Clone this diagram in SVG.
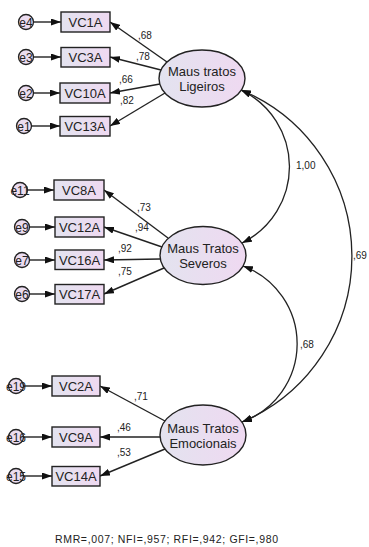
<svg xmlns="http://www.w3.org/2000/svg" width="369" height="547" viewBox="0 0 369 547">
<defs>
<linearGradient id="g" x1="0" y1="0" x2="1" y2="0">
<stop offset="0" stop-color="#e3e3ef"/>
<stop offset="1" stop-color="#efd9f1"/>
</linearGradient>
<marker id="ah" viewBox="0 0 10 7" refX="10" refY="3.5" markerUnits="userSpaceOnUse" markerWidth="10" markerHeight="7" orient="auto-start-reverse">
<path d="M0,0 L10,3.5 L0,7 z" fill="#111"/>
</marker>
<style>
.box{fill:url(#g);stroke:#222;stroke-width:1.4}
.lat{fill:url(#g);stroke:#222;stroke-width:1.4}
.err{fill:#ebdcf0;stroke:#222;stroke-width:1.3}
.bt{font-family:"Liberation Sans",Arial,sans-serif;font-size:13px;fill:#222;text-anchor:middle}
.et{font-family:"Liberation Sans",Arial,sans-serif;font-size:12px;fill:#222;text-anchor:middle}
.lt{font-family:"Liberation Sans",Arial,sans-serif;font-size:13px;fill:#222;text-anchor:middle}
.wt{font-family:"Liberation Sans",Arial,sans-serif;font-size:10px;fill:#222}
.ln{stroke:#222;stroke-width:1.4;fill:none;marker-end:url(#ah)}
.cv{stroke:#222;stroke-width:1.3;fill:none;marker-start:url(#ah);marker-end:url(#ah)}
</style>
</defs>

<g id="connectors">
<!-- error to indicator -->
<line class="ln" x1="34" y1="22" x2="61" y2="22"/>
<line class="ln" x1="34" y1="57" x2="61" y2="57"/>
<line class="ln" x1="34" y1="93" x2="60" y2="93"/>
<line class="ln" x1="32" y1="126" x2="60" y2="126"/>
<line class="ln" x1="28" y1="190" x2="54" y2="190"/>
<line class="ln" x1="30" y1="227" x2="55" y2="227"/>
<line class="ln" x1="30" y1="260" x2="55" y2="260"/>
<line class="ln" x1="30" y1="294" x2="55" y2="294"/>
<line class="ln" x1="24" y1="386" x2="52" y2="386"/>
<line class="ln" x1="24" y1="437" x2="52" y2="437"/>
<line class="ln" x1="24" y1="476" x2="52" y2="476"/>
<!-- latent to indicator -->
<line class="ln" x1="167" y1="62" x2="110" y2="22"/>
<line class="ln" x1="161" y1="70" x2="110" y2="57"/>
<line class="ln" x1="160" y1="84" x2="110" y2="93"/>
<line class="ln" x1="165" y1="93" x2="110" y2="126"/>
<line class="ln" x1="168" y1="238" x2="104" y2="190"/>
<line class="ln" x1="162" y1="247" x2="104" y2="227"/>
<line class="ln" x1="160" y1="259" x2="104" y2="260"/>
<line class="ln" x1="164" y1="268" x2="104" y2="294"/>
<line class="ln" x1="165" y1="421" x2="100" y2="386"/>
<line class="ln" x1="160" y1="437" x2="100" y2="437"/>
<line class="ln" x1="165" y1="449" x2="100" y2="476"/>
<!-- covariances -->
<path class="cv" d="M241,90 A85,85 0 0 1 242,243"/>
<path class="cv" d="M243,266 A83,83 0 0 1 242,422"/>
<path class="cv" d="M241,90 A180,180 0 0 1 242,422"/>
<!-- weight labels -->
<text class="wt" x="138" y="39">,68</text>
<text class="wt" x="136" y="60">,78</text>
<text class="wt" x="119" y="83">,66</text>
<text class="wt" x="120" y="104">,82</text>
<text class="wt" x="137" y="211">,73</text>
<text class="wt" x="135" y="231">,94</text>
<text class="wt" x="118" y="252">,92</text>
<text class="wt" x="118" y="275">,75</text>
<text class="wt" x="134" y="400">,71</text>
<text class="wt" x="117" y="431">,46</text>
<text class="wt" x="117" y="456">,53</text>
<text class="wt" x="296" y="169">1,00</text>
<text class="wt" x="300" y="348">,68</text>
<text class="wt" x="353" y="259">,69</text>
</g>

<g id="lat1"><ellipse class="lat" cx="202" cy="78.5" rx="43" ry="28.5"/><text class="lt" x="202" y="76">Maus tratos</text><text class="lt" x="202" y="91">Ligeiros</text></g>
<g id="lat2"><ellipse class="lat" cx="203" cy="255.5" rx="43" ry="29"/><text class="lt" x="203" y="253">Maus Tratos</text><text class="lt" x="203" y="268">Severos</text></g>
<g id="lat3"><ellipse class="lat" cx="203" cy="435" rx="43" ry="30"/><text class="lt" x="203" y="433">Maus Tratos</text><text class="lt" x="203" y="448">Emocionais</text></g>

<g id="VC1A"><rect class="box" x="61" y="12" width="49" height="20"/><text class="bt" x="85.5" y="27">VC1A</text></g>
<g id="VC3A"><rect class="box" x="61" y="47.5" width="49" height="19.5"/><text class="bt" x="85.5" y="62">VC3A</text></g>
<g id="VC10A"><rect class="box" x="60" y="83" width="50" height="20"/><text class="bt" x="85" y="98">VC10A</text></g>
<g id="VC13A"><rect class="box" x="60" y="116.5" width="50" height="19.5"/><text class="bt" x="85" y="131">VC13A</text></g>
<g id="VC8A"><rect class="box" x="54" y="180" width="50" height="20"/><text class="bt" x="79" y="195">VC8A</text></g>
<g id="VC12A"><rect class="box" x="55" y="217" width="49" height="20"/><text class="bt" x="79.5" y="232">VC12A</text></g>
<g id="VC16A"><rect class="box" x="55" y="250" width="49" height="19.5"/><text class="bt" x="79.5" y="265">VC16A</text></g>
<g id="VC17A"><rect class="box" x="55" y="284.5" width="49" height="19.5"/><text class="bt" x="79.5" y="299">VC17A</text></g>
<g id="VC2A"><rect class="box" x="52" y="376" width="48" height="20"/><text class="bt" x="76" y="391">VC2A</text></g>
<g id="VC9A"><rect class="box" x="52" y="427" width="48" height="20"/><text class="bt" x="76" y="442">VC9A</text></g>
<g id="VC14A"><rect class="box" x="52" y="466.5" width="48" height="19.5"/><text class="bt" x="76" y="481">VC14A</text></g>

<g id="e4"><circle class="err" cx="26" cy="22" r="7.5"/><text class="et" x="26" y="26.5">e4</text></g>
<g id="e3"><circle class="err" cx="26" cy="57" r="7.5"/><text class="et" x="26" y="61.5">e3</text></g>
<g id="e2"><circle class="err" cx="26" cy="93" r="7.5"/><text class="et" x="26" y="97.5">e2</text></g>
<g id="e1"><circle class="err" cx="24" cy="126" r="7.5"/><text class="et" x="24" y="130.5">e1</text></g>
<g id="e11"><circle class="err" cx="20" cy="190" r="7.5"/><text class="et" x="20" y="194.5">e11</text></g>
<g id="e9"><circle class="err" cx="22" cy="227" r="7.5"/><text class="et" x="22" y="231.5">e9</text></g>
<g id="e7"><circle class="err" cx="22" cy="260" r="7.5"/><text class="et" x="22" y="264.5">e7</text></g>
<g id="e6"><circle class="err" cx="22" cy="294" r="7.5"/><text class="et" x="22" y="298.5">e6</text></g>
<g id="e19"><circle class="err" cx="16" cy="386" r="7.5"/><text class="et" x="16" y="390.5">e19</text></g>
<g id="e16"><circle class="err" cx="16" cy="437" r="7.5"/><text class="et" x="16" y="441.5">e16</text></g>
<g id="e15"><circle class="err" cx="16" cy="476" r="7.5"/><text class="et" x="16" y="480.5">e15</text></g>

<text x="55" y="543" font-family="'Liberation Sans',Arial,sans-serif" font-size="10.5" fill="#222" textLength="223">RMR=,007; NFI=,957; RFI=,942; GFI=,980</text>
</svg>
